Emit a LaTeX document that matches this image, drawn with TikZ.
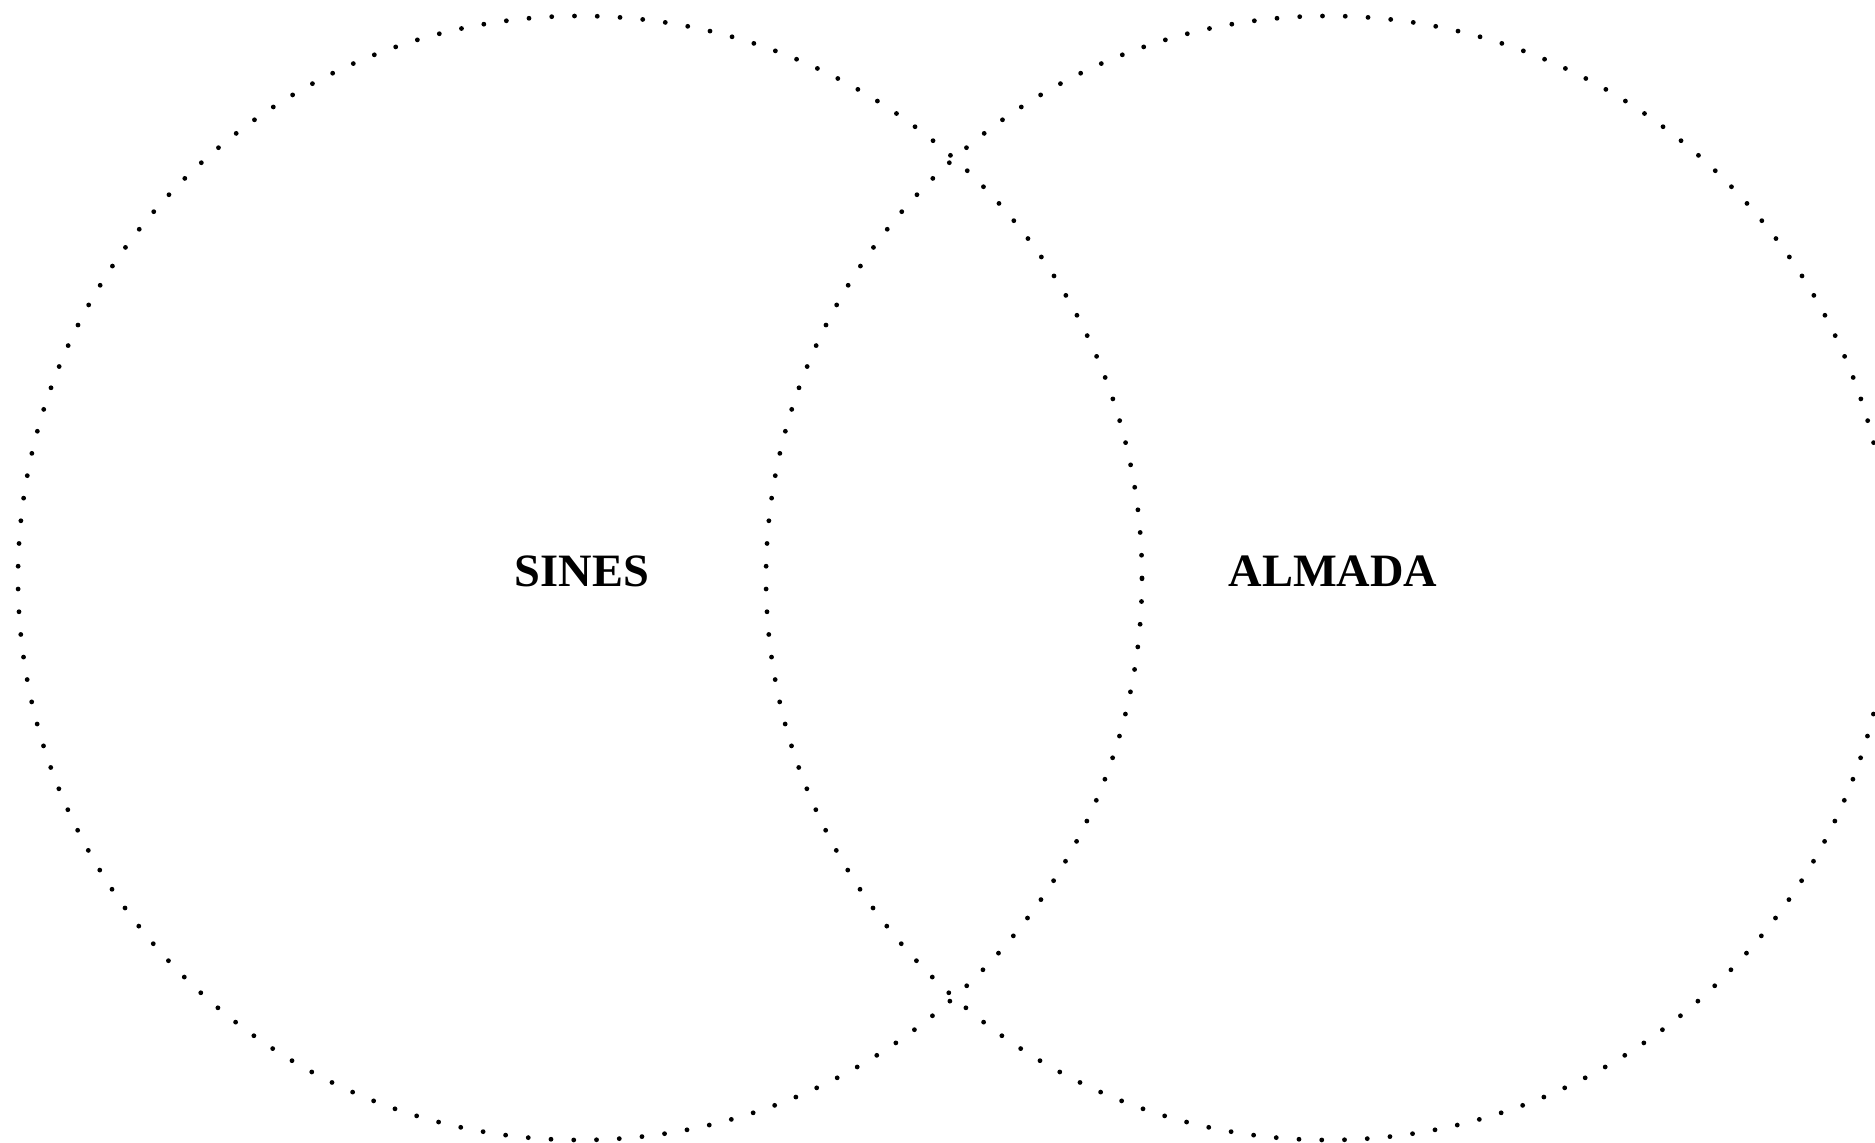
\documentclass[tikz,border=0pt]{standalone}
\usepackage{fontspec}
\setmainfont{Liberation Serif}
\usepackage{tikz}
\usetikzlibrary{positioning}
\tikzset{
  region/.style={circle,draw=black,line width=.48mm,line cap=round,
    dash pattern=on 0pt off 2.278mm,minimum size=11.24cm,inner sep=0pt},
  lab/.style={font=\fontsize{13.2}{15}\selectfont\bfseries,inner sep=0pt}
}
\begin{document}
\begin{tikzpicture}
  \useasboundingbox (0,0) rectangle (18.75,11.43);
  \node[region] (sines) at (5.80,5.65) {};
  \node[region] (almada) at (13.28,5.65) {};
  \node[lab] (sineslab) at (5.82,5.72) {SINES};
  \node[lab] (almadalab) at (13.33,5.72) {ALMADA};
\end{tikzpicture}
\end{document}
